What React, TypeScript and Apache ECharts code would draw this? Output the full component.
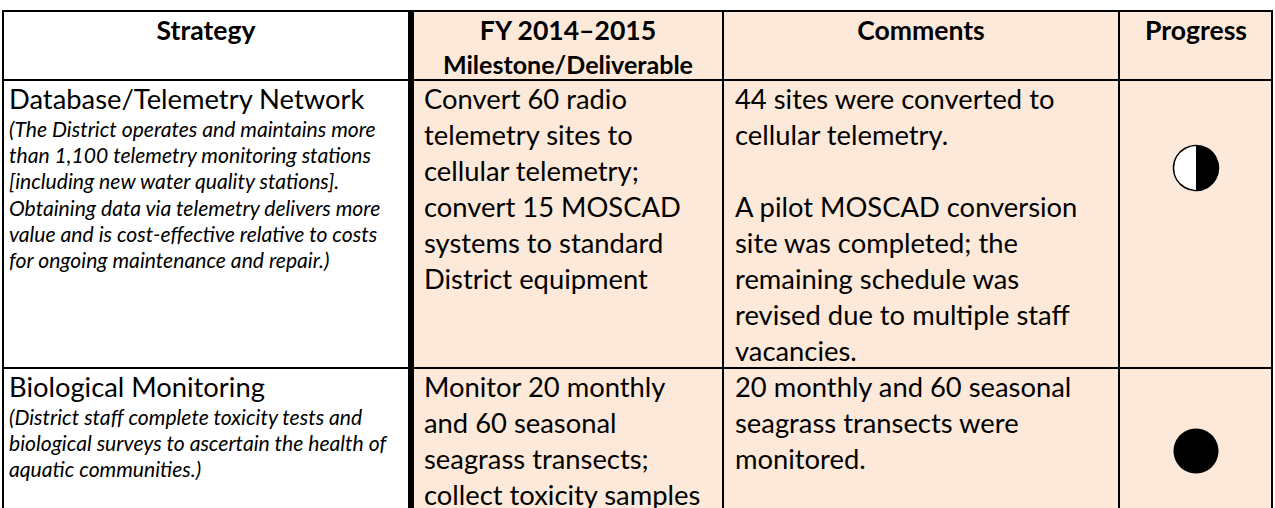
import React, { useEffect, useRef } from "react";
import * as echarts from "echarts";

// ---------- table content ----------
const headers = ["Strategy", "FY 2014–2015", "Comments", "Progress"];
const headerSubtitles = ["", "Milestone/Deliverable", "", ""];

const strategyNames = ["Database/Telemetry Network", "Biological Monitoring"];

const strategyNotes = [
  [
    "(The District operates and maintains more",
    "than 1,100 telemetry monitoring stations",
    "[including new water quality stations].",
    "Obtaining data via telemetry delivers more",
    "value and is cost-effective relative to costs",
    "for ongoing maintenance and repair.)",
  ],
  [
    "(District staff complete toxicity tests and",
    "biological surveys to ascertain the health of",
    "aquatic communities.)",
  ],
];

const milestones = [
  [
    "Convert 60 radio",
    "telemetry sites to",
    "cellular telemetry;",
    "convert 15 MOSCAD",
    "systems to standard",
    "District equipment",
  ],
  ["Monitor 20 monthly", "and 60 seasonal", "seagrass transects;", "collect toxicity samples"],
];

const comments = [
  [
    "44 sites were converted to",
    "cellular telemetry.",
    "",
    "A pilot MOSCAD conversion",
    "site was completed; the",
    "remaining schedule was",
    "revised due to multiple staff",
    "vacancies.",
  ],
  ["20 monthly and 60 seasonal", "seagrass transects were", "monitored."],
];

// share of the milestone achieved (drawn as a filled portion of a circle)
const progress = [0.5, 1];

// ---------- layout ----------
const W = 1275;
const H = 508;
const PEACH = "#FDE9D9";
const FONT = "Lato";

function fitSize(sample: string, target: number, style: string, weight: string, fallback: number) {
  const ctx = document.createElement("canvas").getContext("2d");
  if (!ctx) return fallback;
  ctx.font = `${style} ${weight} 100px ${FONT}`;
  const w = ctx.measureText(sample).width;
  if (!w) return fallback;
  return (100 * target) / w;
}

export default function App() {
  const ref = useRef<HTMLDivElement>(null);

  useEffect(() => {
    if (!ref.current) return;
    const chart = echarts.init(ref.current, null, { renderer: "svg" });

    const bodyPx = fitSize("Database/Telemetry Network", 356, "normal", "normal", 28);
    const notePx = fitSize("(The District operates and maintains more", 367, "italic", "normal", 20);
    const headPx = fitSize("Progress", 102, "normal", "bold", 27);
    const subPx = fitSize("Milestone/Deliverable", 250, "normal", "bold", 25);
    const CENTRAL = 0.387;

    const els: any[] = [];
    const addText = (
      s: string,
      x: number,
      baseline: number,
      px: number,
      style: string,
      weight: string,
      align: string = "left"
    ) => {
      if (!s) return;
      els.push({
        type: "text",
        silent: true,
        style: {
          text: s,
          x,
          y: baseline - CENTRAL * px,
          font: `${style} ${weight} ${px.toFixed(2)}px ${FONT}`,
          fill: "#000",
          textAlign: align,
          textVerticalAlign: "middle",
          align,
          verticalAlign: "middle",
        },
      });
    };
    const addRect = (x: number, y: number, w: number, h: number, fill: string) =>
      els.push({ type: "rect", silent: true, shape: { x, y, width: w, height: h }, style: { fill } });

    // backgrounds
    addRect(0, 0, W, H, "#ffffff");
    addRect(414, 12, 857, H - 12, PEACH);

    // borders
    addRect(2, 10, 1271, 2, "#000");
    addRect(2, 79, 1271, 2, "#000");
    addRect(2, 367, 1271, 2, "#000");
    addRect(2, 10, 2, H - 10, "#000");
    addRect(408, 10, 6, H - 10, "#000");
    addRect(722, 10, 2, H - 10, "#000");
    addRect(1118, 10, 2, H - 10, "#000");
    addRect(1271, 10, 2, H - 10, "#000");

    // header
    const colCenters = [206, 568, 921, 1196];
    headers.forEach((h, i) => addText(h, colCenters[i], 40, headPx, "normal", "bold", "center"));
    headerSubtitles.forEach((h, i) => addText(h, colCenters[i], 73.5, subPx, "normal", "bold", "center"));

    // body rows
    const rowTops = [81, 369];
    const BODY_LH = 36;
    const BODY_ASC = 28.1;
    const NOTE_LH = 26.1;
    const NOTE_ASC = 20.4;
    const colX = [9, 424, 735];
    const progressCY = [168, 451];

    rowTops.forEach((top, r) => {
      addText(strategyNames[r], colX[0], top + BODY_ASC, bodyPx, "normal", "normal");
      strategyNotes[r].forEach((s, k) =>
        addText(s, colX[0], top + BODY_LH + NOTE_ASC + NOTE_LH * k, notePx, "italic", "normal")
      );
      milestones[r].forEach((s, k) =>
        addText(s, colX[1], top + BODY_ASC + BODY_LH * k, bodyPx, "normal", "normal")
      );
      comments[r].forEach((s, k) =>
        addText(s, colX[2], top + BODY_ASC + BODY_LH * k, bodyPx, "normal", "normal")
      );

      const v = progress[r];
      const cx = colCenters[3];
      const cy = progressCY[r];
      const rad = 22.5;
      if (v >= 1) {
        els.push({ type: "circle", silent: true, shape: { cx, cy, r: rad }, style: { fill: "#000" } });
      } else {
        els.push({
          type: "circle",
          silent: true,
          shape: { cx, cy, r: rad },
          style: { fill: "#fff", stroke: "#000", lineWidth: 1.5 },
        });
        if (v > 0) {
          els.push({
            type: "sector",
            silent: true,
            shape: {
              cx,
              cy,
              r: rad,
              r0: 0,
              startAngle: -Math.PI / 2,
              endAngle: -Math.PI / 2 + 2 * Math.PI * v,
              clockwise: true,
            },
            style: { fill: "#000" },
          });
        }
      }
    });

    chart.setOption({
      animation: false,
      graphic: { elements: els },
    });

    return () => chart.dispose();
  }, []);

  return (
    <div
      ref={ref}
      style={{ position: "fixed", left: 0, top: 0, width: W, height: H, background: "#fff" }}
    />
  );
}
